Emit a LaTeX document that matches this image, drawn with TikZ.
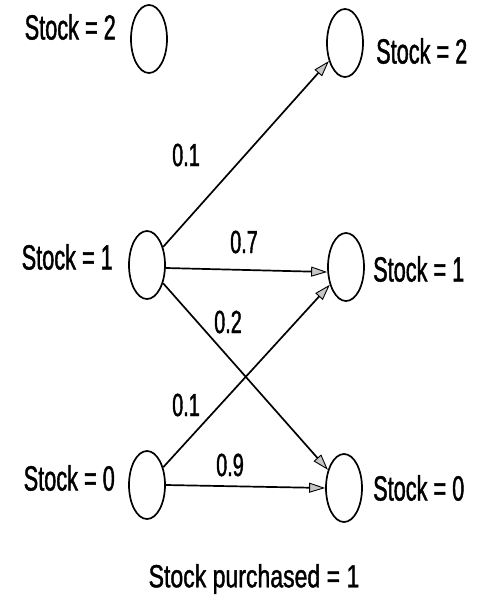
\documentclass[tikz,border=0pt]{standalone}
\usepackage{fontspec}
\newfontfamily\labelfont{Liberation Sans}[FakeStretch=0.62, FakeBold=1.2]
\newfontfamily\capfont{Liberation Sans}[FakeStretch=0.72, FakeBold=1.2]
\usetikzlibrary{shapes.geometric,arrows.meta}
\tikzset{
  state/.style={draw, ellipse, line width=1.7pt, minimum width=36pt, minimum height=68pt, inner sep=0pt},
  lbl/.style={font=\labelfont\fontsize{35}{38}\selectfont, inner sep=0pt},
  prob/.style={font=\labelfont\fontsize{32}{34}\selectfont, inner sep=0pt},
  trans/.style={line width=1.7pt, -{Triangle[length=16pt, width=10pt, fill=gray!45, line width=0.9pt]}}
}
\begin{document}
\begin{tikzpicture}[x=1pt, y=-1pt]
\useasboundingbox (0,0) rectangle (477,610);
% states before purchase
\node[state] (l2) at (149,39) {};
\node[state] (l1) at (147,265) {};
\node[state] (l0) at (147,485) {};
% states after purchase
\node[state] (r2) at (345,43) {};
\node[state] (r1) at (346,267) {};
\node[state] (r0) at (344,488) {};
% state labels
\node[lbl, anchor=east] (tl2) at (116,27) {Stock = 2};
\node[lbl, anchor=east] (tl1) at (113,257) {Stock = 1};
\node[lbl, anchor=east] (tl0) at (115,478) {Stock = 0};
\node[lbl, anchor=west] (tr2) at (376,51) {Stock = 2};
\node[lbl, anchor=west] (tr1) at (373,269) {Stock = 1};
\node[lbl, anchor=west] (tr0) at (373,488) {Stock = 0};
% transitions
\draw[trans] (l1) -- (r2);
\draw[trans] ([yshift=-3pt]l1.east) -- ([yshift=-5pt]r1.west);
\draw[trans] (l1) -- (r0);
\draw[trans] (l0) -- (r1);
\draw[trans] (l0.east) -- (r0.west);
% transition probabilities
\node[prob] (p12) at (186,155) {0.1};
\node[prob] (p11) at (244,242) {0.7};
\node[prob] (p10) at (228,322) {0.2};
\node[prob] (p01) at (186,405) {0.1};
\node[prob] (p00) at (230,465) {0.9};
% caption
\node[font=\capfont\fontsize{32}{34}\selectfont, inner sep=0pt] (cap) at (254,579) {Stock purchased = 1};
\end{tikzpicture}
\end{document}
